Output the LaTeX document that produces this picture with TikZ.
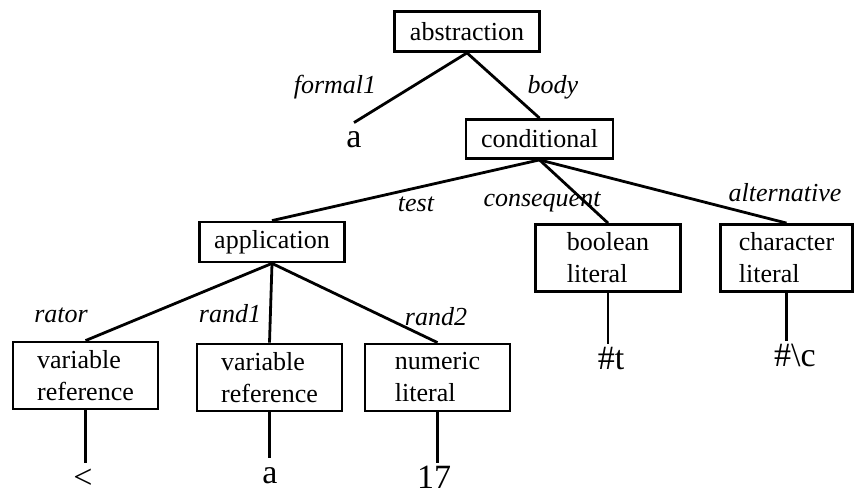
\documentclass[tikz,border=0pt]{standalone}
\usepackage{fontspec}
\setmainfont{Liberation Serif}
\usepackage{tikz}

\begin{document}
\begin{tikzpicture}[
    x=0.5pt, y=-0.5pt,
    every node/.style={font=\fontsize{13}{16}\selectfont},
    box/.style={rectangle, draw, line width=1.4pt, align=left, minimum width=72.5pt, minimum height=20pt, inner sep=2pt},
    tallbox/.style={box, minimum height=33.5pt},
    leaf/.style={font=\fontsize{17}{17}\selectfont, anchor=base, text height=11pt, text depth=0pt, inner sep=1.5pt},
    lbl/.style={font=\fontsize{13}{13}\selectfont\itshape, anchor=base},
    branch/.style={line width=1.4pt}
]
\useasboundingbox (0,0) rectangle (854,496);

% inner nodes
\node (abstraction) [box] at (467,31.5) {abstraction};
\node (conditional) [box, minimum width=73.5pt, minimum height=19.5pt] at (539.5,139) {conditional};
\node (application) [box] at (272,242) {application};
\node (varref1) [tallbox] at (85.5,375.5) {variable\\reference};
\node (varref2) [tallbox] at (269.5,377.5) {variable\\reference};
\node (numlit) [tallbox] at (437.5,377.5) {numeric\\literal};
\node (boollit) [tallbox] at (608,258) {boolean\\literal};
\node (charlit) [tallbox, minimum width=66pt] at (786.5,258) {character\\literal};

% leaves
\node (formal) [leaf] at (354,148) {a};
\node (less) [leaf] at (83,488) {<};
\node (arga) [leaf] at (270,483) {a};
\node (seventeen) [leaf] at (434,488) {17};
\node (truelit) [leaf] at (611,369) {\#t};
\node (charc) [leaf] at (795,366) {\#\textbackslash c};

% branches
\draw [branch] (abstraction.south) -- (formal.north);
\draw [branch] (abstraction.south) -- (conditional.north);
\draw [branch] (conditional.south) -- (application.north);
\draw [branch] (conditional.south) -- (boollit.north);
\draw [branch] (conditional.south) -- (charlit.north);
\draw [branch] (application.south) -- (varref1.north);
\draw [branch] (application.south) -- (varref2.north);
\draw [branch] (application.south) -- (numlit.north);

\draw [branch] (varref1.south) -- (varref1.south |- less.north);
\draw [branch] (varref2.south) -- (varref2.south |- arga.north);
\draw [branch] (numlit.south) -- (numlit.south |- seventeen.north);
\draw [branch] (boollit.south) -- (boollit.south |- truelit.north);
\draw [branch] (charlit.south) -- (charlit.south |- charc.north);

% edge labels
\node [lbl] at (335,94) {formal1};
\node [lbl] at (553,94) {body};
\node [lbl] at (416,212) {test};
\node [lbl] at (542,207) {consequent};
\node [lbl] at (785,202) {alternative};
\node [lbl] at (61,322) {rator};
\node [lbl] at (230,322) {rand1};
\node [lbl] at (436,325) {rand2};

\end{tikzpicture}
\end{document}
